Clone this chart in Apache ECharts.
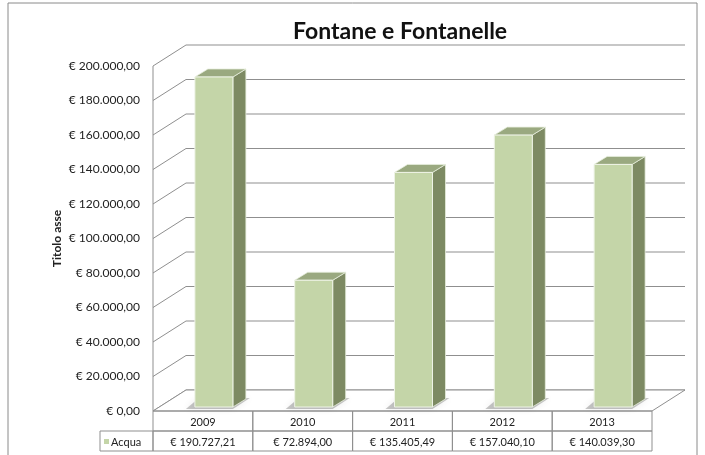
<!DOCTYPE html>
<html lang="it">
<head>
  <meta charset="UTF-8">
  <title>Fontane e Fontanelle</title>
  <style>
    html, body { margin: 0; padding: 0; background: #fff; }
    #chart { width: 705px; height: 455px; }
  </style>
</head>
<body>
  <div id="chart"></div>
  <script src="https://cdn.jsdelivr.net/npm/echarts@6/dist/echarts.min.js"></script>
  <script>
    // dati
    const categories = ['2009', '2010', '2011', '2012', '2013'];
    const acqua = [190727.21, 72894.00, 135405.49, 157040.10, 140039.30];
    const seriesName = 'Acqua';
    const yTicks = [0, 20000, 40000, 60000, 80000, 100000, 120000, 140000, 160000, 180000, 200000];

    const FONT = 'Lato, "Liberation Sans", sans-serif';
    const DEPTH = [33, -21];      // profondita' delle pareti
    const LINE = '#8f8f8f';

    function euro(v) {
      const parts = v.toFixed(2).split('.');
      return '€ ' + parts[0].replace(/\B(?=(\d{3})+(?!\d))/g, '.') + ',' + parts[1];
    }

    let chart = echarts.init(document.getElementById('chart'));

    // pareti e pavimento
    function renderWalls(params, api) {
      const v = api.value(1);
      const cs = params.coordSys;
      const p = api.coord([0, v]);
      const x0 = cs.x, x1 = cs.x + cs.width;
      const y = p[1];
      const children = [
        { type: 'line', shape: { x1: x0, y1: y, x2: x0 + DEPTH[0], y2: y + DEPTH[1] }, style: { stroke: LINE, lineWidth: 1 } },
        { type: 'line', shape: { x1: x0 + DEPTH[0], y1: y + DEPTH[1], x2: x1 + DEPTH[0], y2: y + DEPTH[1] }, style: { stroke: LINE, lineWidth: 1 } }
      ];
      if (params.dataIndex === 0) {
        // pavimento
        children.push({
          type: 'polygon',
          shape: { points: [[x0, y], [x0 + DEPTH[0], y + DEPTH[1]], [x1 + DEPTH[0], y + DEPTH[1]], [x1, y]] },
          style: { fill: '#fff', stroke: LINE, lineWidth: 1 }
        });
        // spigolo verticale
        children.push({
          type: 'line',
          shape: { x1: x0, y1: cs.y, x2: x0, y2: cs.y + cs.height },
          style: { stroke: LINE, lineWidth: 1 }
        });
      }
      return { type: 'group', children: children };
    }

    // barre 3D
    function renderBar(params, api) {
      const i = api.value(0);
      const c0 = api.coord([i, 0]);
      const c1 = api.coord([i, api.value(1)]);
      const w = 38, dx = 13, dy = -8;
      const x = c0[0] - 8;
      const yb = c0[1] - 4;
      const yt = c1[1] - 5;
      return {
        type: 'group',
        children: [
          {
            type: 'polygon',
            shape: { points: [[x - 9, yb + 2], [x + w, yb + 2], [x + w + dx + 4, yb + dy - 1], [x + 4, yb + dy - 1]] },
            style: { fill: 'rgba(0,0,0,0.22)', shadowBlur: 7, shadowColor: 'rgba(0,0,0,0.35)' }
          },
          {
            type: 'polygon',
            shape: { points: [[x + w, yt], [x + w + dx, yt + dy], [x + w + dx, yb + dy], [x + w, yb]] },
            style: { fill: '#7d8a63', stroke: '#e6eddc', lineWidth: 0.8 }
          },
          {
            type: 'polygon',
            shape: { points: [[x, yt], [x + dx, yt + dy], [x + w + dx, yt + dy], [x + w, yt]] },
            style: { fill: '#9aa980', stroke: '#e6eddc', lineWidth: 0.8 }
          },
          {
            type: 'rect',
            shape: { x: x, y: yt, width: w, height: yb - yt },
            style: { fill: '#c4d5a8', stroke: '#eef3e6', lineWidth: 1 }
          }
        ]
      };
    }

    // tabella dati
    function renderTable(params, api) {
      const i = api.value(0);
      const cs = params.coordSys;
      const band = api.size([1, 0])[0];
      const cx = api.coord([i, 0])[0];
      const left = cx - band / 2;
      const top = cs.y + cs.height;
      const rowH = 20;
      const children = [
        { type: 'rect', shape: { x: left, y: top, width: band, height: rowH }, style: { fill: 'none', stroke: LINE, lineWidth: 1 } },
        { type: 'rect', shape: { x: left, y: top + rowH, width: band, height: rowH }, style: { fill: 'none', stroke: LINE, lineWidth: 1 } },
        {
          type: 'text',
          style: { x: cx, y: top + rowH / 2 + 1, text: categories[i], align: 'center', verticalAlign: 'middle', fill: '#222', font: '11px ' + FONT }
        },
        {
          type: 'text',
          style: { x: cx, y: top + rowH * 1.5 + 1, text: euro(api.value(1)), align: 'center', verticalAlign: 'middle', fill: '#222', font: '11px ' + FONT }
        }
      ];
      if (i === 0) {
        children.push(
          { type: 'rect', shape: { x: left - 53, y: top + rowH, width: 53, height: rowH }, style: { fill: 'none', stroke: LINE, lineWidth: 1 } },
          { type: 'rect', shape: { x: left - 49, y: top + rowH * 1.5 - 2, width: 5, height: 5 }, style: { fill: '#c4d5a8' } },
          {
            type: 'text',
            style: { x: left - 42, y: top + rowH * 1.5 + 1, text: seriesName, align: 'left', verticalAlign: 'middle', fill: '#222', font: '11px ' + FONT }
          }
        );
      }
      return { type: 'group', children: children };
    }

    let option = {
      backgroundColor: '#fff',
      animation: false,
      title: {
        text: 'Fontane e Fontanelle',
        left: 288,
        top: 15,
        textStyle: { fontFamily: FONT, fontSize: 23, fontWeight: 'bold', color: '#111' }
      },
      graphic: [{
        type: 'rect',
        shape: { x: 8, y: 3, width: 689, height: 470 },
        style: { fill: 'none', stroke: '#8a8a8a', lineWidth: 1 },
        silent: true
      }],
      grid: { left: 153, right: 53, top: 66, bottom: 44 },
      xAxis: {
        type: 'category',
        data: categories,
        axisLine: { show: false },
        axisTick: { show: false },
        axisLabel: { show: false },
        splitLine: { show: false }
      },
      yAxis: {
        type: 'value',
        min: 0,
        max: 200000,
        interval: 20000,
        name: 'Titolo asse',
        nameLocation: 'middle',
        nameGap: 90,
        nameMoveOverlap: false,
        nameTextStyle: { fontFamily: FONT, fontSize: 12, fontWeight: 'bold', color: '#222' },
        axisLine: { show: false },
        axisTick: { show: false },
        splitLine: { show: false },
        axisLabel: {
          margin: 13,
          fontFamily: FONT,
          fontSize: 12,
          color: '#222',
          formatter: function (v) { return euro(v); }
        }
      },
      series: [
        {
          type: 'custom',
          name: 'pareti',
          clip: false,
          silent: true,
          z: 1,
          renderItem: renderWalls,
          data: yTicks.map(v => [0, v])
        },
        {
          type: 'custom',
          name: seriesName,
          clip: false,
          z: 3,
          renderItem: renderBar,
          data: acqua.map((v, i) => [i, v])
        },
        {
          type: 'custom',
          name: 'tabella',
          clip: false,
          silent: true,
          z: 4,
          renderItem: renderTable,
          data: acqua.map((v, i) => [i, v])
        }
      ]
    };
    chart.setOption(option);
  </script>
</body>
</html>
